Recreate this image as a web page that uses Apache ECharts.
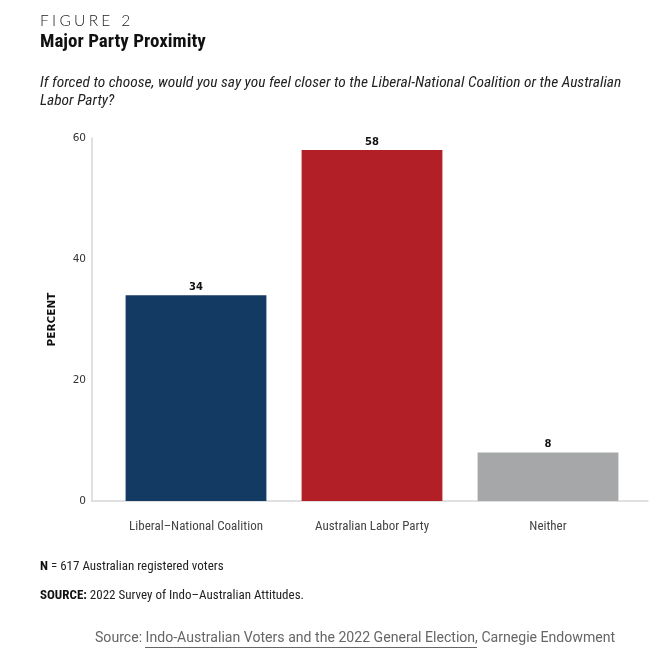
<!DOCTYPE html>
<html lang="en">
<head>
    <meta charset="UTF-8">
    <title>Major Party Proximity</title>
    <style>
        html, body { margin: 0; padding: 0; background: #fff; }
        #chart1 { width: 649px; height: 662px; }
    </style>
</head>
<body>
<div id="chart1"></div>
<script type="text/javascript" src="https://cdn.jsdelivr.net/npm/echarts@6/dist/echarts.min.js"></script>
<script type="text/javascript">
    // data
var categories = ['Liberal\u2013National Coalition', 'Australian Labor Party', 'Neither'];
var percentValues = [34, 58, 8];
var barColors = ['#123a62', '#b21f27', '#a6a7a8'];
var yTicks = [0, 20, 40, 60];

var condensed = '"Liberation Sans Narrow", "Roboto Condensed", "Noto Sans", sans-serif';

// spaced-out caps for the figure number: each letter is its own rich token
var figureLabel = 'FIGURE 2';
var spacedText = figureLabel.split('').map(function (ch) {
    return '{s|' + ch + '}';
}).join('');

var option = {
    backgroundColor: '#fff',
    animation: false,
    title: [
        {
            text: spacedText,
            left: 40, top: 13, padding: 0,
            textStyle: {
                fontFamily: 'Lato, "Noto Sans", sans-serif', fontWeight: 300, fontSize: 15.5, color: '#1a1a1a',
                rich: { s: { fontFamily: 'Lato, "Noto Sans", sans-serif', fontWeight: 300, fontSize: 15.5, color: '#1a1a1a', padding: [0, 3.3, 0, 0] } }
            }
        },
        {
            text: 'Major Party Proximity',
            left: 40, top: 33, padding: 0,
            textStyle: { fontFamily: condensed, fontWeight: 'bold', fontSize: 19, color: '#111' }
        },
        {
            text: 'If forced to choose, would you say you feel closer to the Liberal-National Coalition or the Australian\nLabor Party?',
            left: 40, top: 74, padding: 0,
            textStyle: { fontFamily: condensed, fontStyle: 'italic', fontWeight: 'normal', fontSize: 15.4, lineHeight: 18, color: '#222' }
        },
        {
            text: '{b|N} = 617 Australian registered voters',
            left: 40, top: 560, padding: 0,
            textStyle: {
                fontFamily: condensed, fontWeight: 'normal', fontSize: 13, color: '#222',
                rich: { b: { fontFamily: condensed, fontWeight: 'bold', fontSize: 13, color: '#111' } }
            }
        },
        {
            text: '{b|SOURCE:} 2022 Survey of Indo\u2013Australian Attitudes.',
            left: 40, top: 589, padding: 0,
            textStyle: {
                fontFamily: condensed, fontWeight: 'normal', fontSize: 13, color: '#222',
                rich: { b: { fontFamily: condensed, fontWeight: 'bold', fontSize: 13, color: '#111' } }
            }
        },
        {
            text: 'Source: Indo-Australian Voters and the 2022 General Election, Carnegie Endowment',
            left: 95, top: 631, padding: 0,
            textStyle: { fontFamily: 'Roboto, "Noto Sans", sans-serif', fontWeight: 'normal', fontSize: 14.1, color: '#666' }
        }
    ],
    grid: [
        { left: 108, right: 13, top: 138, bottom: 161 },
        { left: 92, right: 1, top: 138, bottom: 161 }
    ],
    xAxis: [
        {
            type: 'category',
            gridIndex: 0,
            data: categories,
            axisLine: { show: false },
            axisTick: { show: false },
            axisLabel: { margin: 19, fontFamily: condensed, fontSize: 13, color: '#444' }
        },
        {
            // only the long baseline
            type: 'value',
            gridIndex: 1,
            min: 0, max: 1,
            axisLine: { show: true, onZero: false, lineStyle: { color: '#d6d6d6', width: 1.5 } },
            axisTick: { show: false },
            axisLabel: { show: false },
            splitLine: { show: false }
        }
    ],
    yAxis: [
        {
            type: 'value',
            gridIndex: 0,
            min: yTicks[0],
            max: yTicks[yTicks.length - 1],
            interval: 20,
            offset: 16,
            name: 'PERCENT',
            nameLocation: 'middle',
            nameGap: 34,
            nameTextStyle: { fontFamily: '"DejaVu Sans", sans-serif', fontWeight: 'bold', fontSize: 10.5, color: '#111', letterSpacing: 1 },
            axisLine: { show: true, lineStyle: { color: '#d6d6d6', width: 1.5 } },
            axisTick: { show: false },
            axisLabel: { margin: 6, fontFamily: '"DejaVu Sans", sans-serif', fontSize: 10.5, color: '#333', letterSpacing: 1 },
            splitLine: { show: false }
        },
        {
            type: 'value',
            gridIndex: 1,
            min: 0, max: 1,
            show: false
        }
    ],
    series: [
        {
            name: 'Percent',
            type: 'bar',
            xAxisIndex: 0,
            yAxisIndex: 0,
            barCategoryGap: '20%',
            data: percentValues.map(function (v, i) {
                return { value: v, itemStyle: { color: barColors[i] } };
            }),
            label: {
                show: true,
                position: 'top',
                distance: 3,
                fontFamily: '"DejaVu Sans", sans-serif',
                fontWeight: 'bold',
                fontSize: 10,
                color: '#111'
            }
        }
    ],
    graphic: [
        {
            // underline under the report title in the credit line
            type: 'line',
            shape: { x1: 145, y1: 647.5, x2: 477, y2: 647.5 },
            style: { stroke: '#666', lineWidth: 1 }
        }
    ]
};

var myChart = echarts.init(document.getElementById('chart1'));
myChart.setOption(option);
</script>
</body>
</html>
